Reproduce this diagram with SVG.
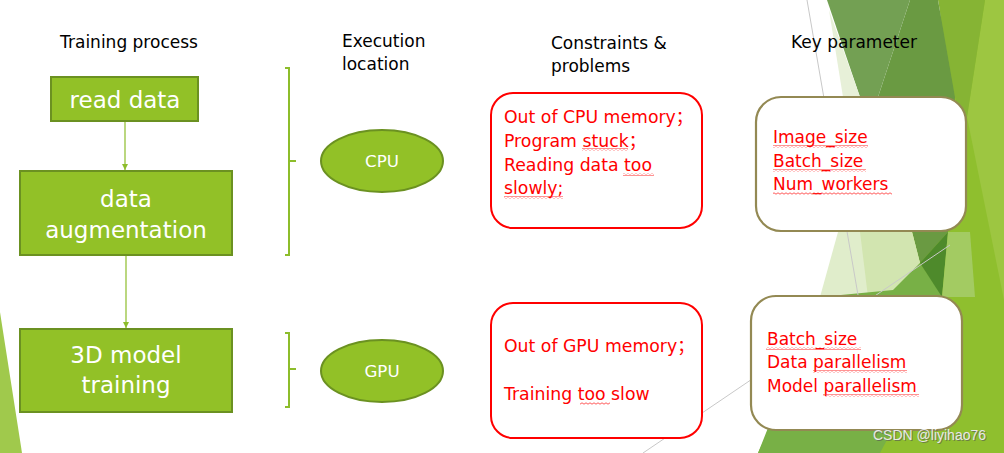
<svg xmlns="http://www.w3.org/2000/svg" width="1004" height="453" viewBox="0 0 1004 453">
<defs>
<style>
.hdr{font-family:"DejaVu Sans","Noto Sans",sans-serif;font-size:17px;fill:#000}
.gbox{fill:#92c127;stroke:#6b9121;stroke-width:2}
.gtxt{font-family:"DejaVu Sans","Noto Sans",sans-serif;font-size:23px;fill:#fff;text-anchor:middle}
.etxt{font-family:"DejaVu Sans","Noto Sans",sans-serif;font-size:16.7px;fill:#fff;text-anchor:middle}
.rbox{fill:#fff;stroke:#ff0000;stroke-width:2}
.kbox{fill:#fff;stroke:#938953;stroke-width:2.2}
.rtxt{font-family:"DejaVu Sans","Noto Sans","Noto Sans CJK SC",sans-serif;font-size:17.3px;fill:#ff0000}
.ktxt{font-family:"DejaVu Sans","Noto Sans",sans-serif;font-size:17px;fill:#ff0000}
.brk{fill:none;stroke:#8dbd2b;stroke-width:2}
.conn{stroke:#8dbd2b;stroke-width:1.2;fill:none}
.gline{stroke:#c8c8c8;stroke-width:1;fill:none}
.wv{fill:url(#wavy)}
</style>
<marker id="arr" markerWidth="8" markerHeight="8" refX="6" refY="4" orient="auto" markerUnits="userSpaceOnUse">
<path d="M0,1 L6,4 L0,7 Z" fill="#8dbd2b"/>
</marker>
<pattern id="wavy" width="4" height="3" patternUnits="userSpaceOnUse">
<path d="M0,2.2 L2,0.8 L4,2.2" fill="none" stroke="#ff3030" stroke-width="0.8"/>
</pattern>
</defs>
<rect width="1004" height="453" fill="#fff"/>
<g id="background">
<polygon points="0,312 22,453 0,453" fill="#a0c94c"/>
<polygon points="940,0 1004,0 1004,453 758,453 860,232 945,232" fill="#8fbf2e"/>
<polygon points="985,0 1004,0 1004,300 967,117" fill="#9dc641"/>
<polygon points="938,0 985,0 965,130 955,97" fill="#86b434"/>
<polygon points="910,0 938,0 955,97 948,232 920,263 878,97" fill="#6a9a42"/>
<polygon points="827,0 910,0 878,97 860,97" fill="#73a053"/>
<polygon points="829,10 860,97 843,97" fill="#e7f0d8"/>
<polygon points="838,232 912,232 920,263 880,297 820,297" fill="#e0edcb"/>
<polygon points="860,232 912,232 920,263 893,297 868,297" fill="#d2e5b0"/>
<polygon points="820,297 893,290 920,263 945,300 945,330 880,453 758,453" fill="#78b046"/>
<polygon points="920,263 948,232 942,297" fill="#4e8a2b"/>
<polygon points="948,232 970,232 975,297 942,297" fill="#a3cb62"/>
<line class="gline" x1="807" y1="0" x2="858" y2="295"/>
<line class="gline" x1="950" y1="245" x2="643" y2="453"/>
</g>
<g id="headers">
<text class="hdr" x="129" y="48" text-anchor="middle">Training process</text>
<text class="hdr" x="342" y="47">Execution</text>
<text class="hdr" x="342" y="70">location</text>
<text class="hdr" x="551" y="49">Constraints &amp;</text>
<text class="hdr" x="551" y="72">problems</text>
<text class="hdr" x="791" y="48">Key parameter</text>
</g>
<g id="connectors">
<line class="conn" x1="125" y1="121" x2="125" y2="170" marker-end="url(#arr)"/>
<line class="conn" x1="126" y1="255" x2="126" y2="328" marker-end="url(#arr)"/>
<path class="brk" d="M285,68 H289 V255 H285 M289,161 H296"/>
<path class="brk" d="M285,333 H289 V407 H285 M289,369 H296"/>
</g>
<g id="node-read-data">
<rect class="gbox" x="51" y="77" width="147" height="44"/>
<text class="gtxt" x="125" y="108">read data</text>
</g>
<g id="node-data-augmentation">
<rect class="gbox" x="20" y="171" width="212" height="84"/>
<text class="gtxt" x="126" y="207">data</text>
<text class="gtxt" x="126" y="238">augmentation</text>
</g>
<g id="node-3d-model-training">
<rect class="gbox" x="20" y="329" width="212" height="83"/>
<text class="gtxt" x="126" y="363">3D model</text>
<text class="gtxt" x="126" y="393">training</text>
</g>
<g id="node-cpu">
<ellipse class="gbox" cx="382" cy="161" rx="61" ry="31"/>
<text class="etxt" x="382" y="167">CPU</text>
</g>
<g id="node-gpu">
<ellipse class="gbox" cx="382" cy="371" rx="61" ry="31"/>
<text class="etxt" x="382" y="377">GPU</text>
</g>
<g id="node-cpu-problems">
<rect class="rbox" x="491" y="93" width="211" height="135" rx="22"/>
<text class="rtxt" x="504" y="123">Out of CPU memory；</text>
<text class="rtxt" x="504" y="147">Program stuck；</text>
<text class="rtxt" x="504" y="171">Reading data too</text>
<text class="rtxt" x="504" y="194">slowly;</text>
<rect class="wv" x="582" y="148" width="46" height="3"/>
<rect class="wv" x="623" y="173" width="31" height="3"/>
<rect class="wv" x="504" y="196" width="59" height="3"/>
</g>
<g id="node-gpu-problems">
<rect class="rbox" x="491" y="303" width="211" height="135" rx="22"/>
<text class="rtxt" x="504" y="352">Out of GPU memory；</text>
<text class="rtxt" x="504" y="400">Training too slow</text>
<rect class="wv" x="580" y="402" width="30" height="3"/>
</g>
<g id="node-cpu-params">
<rect class="kbox" x="756" y="97" width="210" height="134" rx="25"/>
<text class="ktxt" x="773" y="143">Image_size</text>
<text class="ktxt" x="773" y="167">Batch_size</text>
<text class="ktxt" x="773" y="190">Num_workers</text>
<rect class="wv" x="773" y="145" width="95" height="3"/>
<rect class="wv" x="773" y="169" width="93" height="3"/>
<rect class="wv" x="773" y="192" width="119" height="3"/>
</g>
<g id="node-gpu-params">
<rect class="kbox" x="751" y="296" width="211" height="134" rx="25"/>
<text class="ktxt" x="767" y="345">Batch_size</text>
<text class="ktxt" x="767" y="368">Data parallelism</text>
<text class="ktxt" x="767" y="392">Model parallelism</text>
<rect class="wv" x="766" y="347" width="95" height="3"/>
<rect class="wv" x="813" y="370" width="94" height="3"/>
<rect class="wv" x="823" y="394" width="96" height="3"/>
</g>
<g id="watermark">
<text x="874" y="441" font-family="Liberation Sans, Arial, sans-serif" font-size="14" fill="#555" opacity="0.6">CSDN @liyihao76</text>
<text x="873" y="440" font-family="Liberation Sans, Arial, sans-serif" font-size="14" fill="#e8e8e8">CSDN @liyihao76</text>
</g>
</svg>
